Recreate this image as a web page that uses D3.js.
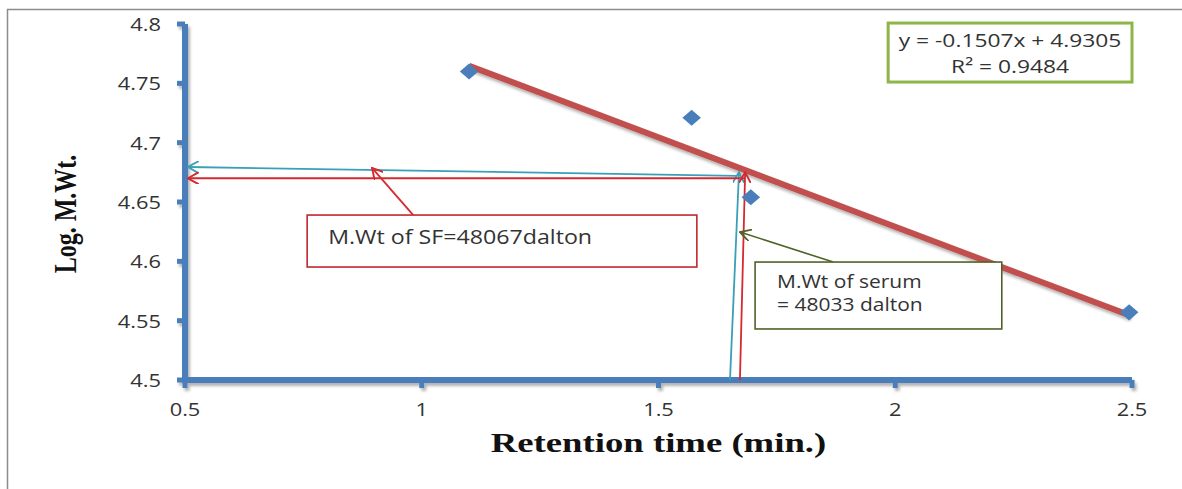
<!DOCTYPE html>
<html>
<head>
<meta charset="utf-8">
<script src="https://cdn.jsdelivr.net/npm/d3@7"></script>
<style>
  html, body { margin: 0; padding: 0; background: #fff; }
  svg { display: block; }
</style>
</head>
<body>
<svg id="chart"></svg>
<script>
// data
const retentionTime = [1.1, 1.57, 1.695, 2.494];
const logMWt = [4.76, 4.721, 4.654, 4.557];
const xTicks = [0.5, 1, 1.5, 2, 2.5];
const yTicks = [4.5, 4.55, 4.6, 4.65, 4.7, 4.75, 4.8];
const slope = -0.1507;
const intercept = 4.9305;
const equationLines = ["y = -0.1507x + 4.9305", "R² = 0.9484"];
const sfLabel = "M.Wt of SF=48067dalton";
const serumLabel = ["M.Wt of serum", "= 48033 dalton"];

// guide arrows in data units
const redArrows = [
  [[1.672, 4.5], [1.683, 4.675]],
  [[1.683, 4.670], [0.506, 4.670]],
  [[0.982, 4.639], [0.895, 4.6787]]
];
const cyanArrows = [
  [[1.651, 4.5], [1.670, 4.675]],
  [[1.666, 4.672], [0.506, 4.6795]]
];
const greenArrows = [
  [[1.869, 4.5994], [1.672, 4.6247]]
];

const width = 1182;
const height = 489;
const margin = { top: 24, right: 50, bottom: 109, left: 185 };

const svg = d3.select("#chart").attr("width", width).attr("height", height);

const x = d3.scaleLinear().domain([0.5, 2.5]).range([margin.left, width - margin.right]);
const y = d3.scaleLinear().domain([4.5, 4.8]).range([height - margin.bottom, margin.top]);

const axisBlue = "#4a7ebb";
const trendRed = "#c0504d";
const arrowRed = "#d42a2f";
const arrowCyan = "#3a9fb8";
const olive = "#4f6228";
const sans = "'Open Sans', sans-serif";
const serif = "'Liberation Serif', 'Times New Roman', serif";

const defs = svg.append("defs");
const shadow = defs.append("filter").attr("id", "shadow")
  .attr("x", "-5%").attr("y", "-50%").attr("width", "110%").attr("height", "200%");
shadow.append("feDropShadow").attr("dx", 2).attr("dy", 3).attr("stdDeviation", 1.6)
  .attr("flood-color", "#000").attr("flood-opacity", 0.3);

function arrowMarker(id, color) {
  defs.append("marker")
    .attr("id", id)
    .attr("viewBox", "0 0 10 10")
    .attr("refX", 9)
    .attr("refY", 5)
    .attr("markerWidth", 12)
    .attr("markerHeight", 12)
    .attr("markerUnits", "userSpaceOnUse")
    .attr("orient", "auto")
    .append("path")
    .attr("d", "M 0 0 L 9 5 L 0 10")
    .attr("fill", "none")
    .attr("stroke", color)
    .attr("stroke-width", 1.6);
}
arrowMarker("arrow-red", arrowRed);
arrowMarker("arrow-cyan", arrowCyan);
arrowMarker("arrow-green", olive);

// outer frame
svg.append("rect")
  .attr("x", 7.5).attr("y", 9.5)
  .attr("width", width + 20).attr("height", height + 20)
  .attr("fill", "#fff")
  .attr("stroke", "#8c8c8c")
  .attr("stroke-width", 1.5);

// stretched text helper (reference image is wider than tall)
function label(g, text, px, py, size, opts = {}) {
  const sx = opts.sx || 1.15;
  return g.append("text")
    .attr("transform", `translate(${px},${py}) scale(${sx},1)`)
    .attr("text-anchor", opts.anchor || "start")
    .attr("font-family", opts.family || sans)
    .attr("font-size", size)
    .attr("font-weight", opts.weight || "normal")
    .attr("fill", opts.fill || "#333")
    .text(text);
}

// axes
const axes = svg.append("g").attr("filter", "url(#shadow)");
axes.append("line")
  .attr("x1", x(0.5)).attr("x2", x(0.5))
  .attr("y1", y(4.8)).attr("y2", y(4.5))
  .attr("stroke", axisBlue).attr("stroke-width", 6);
axes.append("line")
  .attr("x1", x(0.5) - 3).attr("x2", x(2.5))
  .attr("y1", y(4.5)).attr("y2", y(4.5))
  .attr("stroke", axisBlue).attr("stroke-width", 6);
axes.selectAll(".ytick").data(yTicks).join("line")
  .attr("x1", x(0.5) - 8).attr("x2", x(0.5))
  .attr("y1", (d) => y(d)).attr("y2", (d) => y(d))
  .attr("stroke", axisBlue).attr("stroke-width", 5);
axes.selectAll(".xtick").data(xTicks).join("line")
  .attr("x1", (d) => x(d)).attr("x2", (d) => x(d))
  .attr("y1", y(4.5)).attr("y2", y(4.5) + 8)
  .attr("stroke", axisBlue).attr("stroke-width", 5);

// tick labels
const tickLabels = svg.append("g");
yTicks.forEach((t) => {
  label(tickLabels, d3.format("")(t), x(0.5) - 24, y(t) + 7, 19, { anchor: "end" });
});
xTicks.forEach((t) => {
  label(tickLabels, d3.format("")(t), x(t), y(4.5) + 36, 19, { anchor: "middle" });
});

// axis titles
svg.append("text")
  .attr("transform", `translate(76,${(y(4.8) + y(4.5)) / 2 + 12}) rotate(-90) scale(1,1.35)`)
  .attr("text-anchor", "middle")
  .attr("font-family", serif)
  .attr("font-size", 24)
  .attr("font-weight", "bold")
  .attr("fill", "#111")
  .text("Log. M.Wt.");
label(svg, "Retention time (min.)", (x(0.5) + x(2.5)) / 2, 452, 27,
  { anchor: "middle", family: serif, weight: "bold", fill: "#111", sx: 1.36 });

// trendline across the data range
const [xMin, xMax] = d3.extent(retentionTime);
svg.append("line")
  .attr("x1", x(xMin)).attr("y1", y(slope * xMin + intercept))
  .attr("x2", x(xMax)).attr("y2", y(slope * xMax + intercept))
  .attr("stroke", trendRed)
  .attr("stroke-width", 6)
  .attr("filter", "url(#shadow)");

// guide arrows
function drawArrows(list, color, marker, w) {
  list.forEach(([a, b]) => {
    svg.append("line")
      .attr("x1", x(a[0])).attr("y1", y(a[1]))
      .attr("x2", x(b[0])).attr("y2", y(b[1]))
      .attr("stroke", color)
      .attr("stroke-width", w)
      .attr("marker-end", `url(#${marker})`);
  });
}
drawArrows(cyanArrows, arrowCyan, "arrow-cyan", 1.8);
drawArrows(redArrows, arrowRed, "arrow-red", 1.8);
drawArrows(greenArrows, olive, "arrow-green", 1.6);

// data points (square turned 45deg, a bit wider than tall)
svg.selectAll(".pt")
  .data(retentionTime.map((t, i) => [t, logMWt[i]]))
  .join("path")
  .attr("d", d3.symbol(d3.symbolSquare, 130))
  .attr("transform", (d) => `translate(${x(d[0])},${y(d[1])}) scale(1.15,1) rotate(45)`)
  .attr("fill", axisBlue);

// SF annotation box
const sfBox = svg.append("g");
sfBox.append("rect")
  .attr("x", x(0.758)).attr("y", y(4.639))
  .attr("width", x(1.581) - x(0.758)).attr("height", y(4.5952) - y(4.639))
  .attr("fill", "#fff")
  .attr("stroke", "#c0272d")
  .attr("stroke-width", 1.6);
label(sfBox, sfLabel, x(0.758) + 21, y(4.639) + 29, 20, { sx: 1.16 });

// serum annotation box
const serumBox = svg.append("g");
serumBox.append("rect")
  .attr("x", x(1.704)).attr("y", y(4.5994))
  .attr("width", x(2.225) - x(1.704)).attr("height", y(4.543) - y(4.5994))
  .attr("fill", "#fff")
  .attr("stroke", olive)
  .attr("stroke-width", 1.6);
serumLabel.forEach((s, i) => {
  label(serumBox, s, x(1.704) + 22, y(4.5994) + 26 + i * 23, 17.5, { sx: 1.2 });
});

// trendline equation
const eqBox = svg.append("g");
eqBox.append("rect")
  .attr("x", x(1.985)).attr("y", y(4.8008))
  .attr("width", x(2.5) - x(1.985)).attr("height", y(4.7511) - y(4.8008))
  .attr("fill", "#fff")
  .attr("stroke", "#8db548")
  .attr("stroke-width", 3);
equationLines.forEach((s, i) => {
  label(eqBox, s, (x(1.985) + x(2.5)) / 2, y(4.8008) + 24 + i * 26, 19, { anchor: "middle", sx: 1.2 });
});
</script>
</body>
</html>
